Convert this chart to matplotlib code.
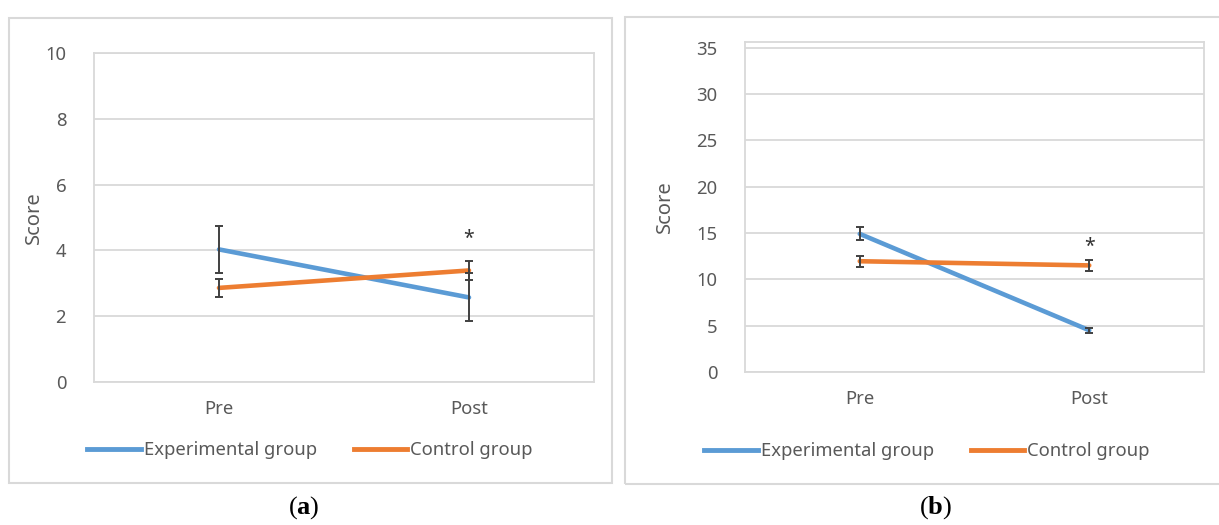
import matplotlib
matplotlib.use("Agg")
import matplotlib.pyplot as plt
from matplotlib.patches import Rectangle
from matplotlib.lines import Line2D

plt.rcParams["mathtext.fontset"] = "custom"
plt.rcParams["mathtext.rm"] = "Liberation Serif"
plt.rcParams["mathtext.bf"] = "Liberation Serif:bold"

# ---- data ----
categories = ["Pre", "Post"]
series_names = ["Experimental group", "Control group"]

a_exp = [4.03, 2.57]
a_exp_err = [0.71, 0.73]
a_ctrl = [2.86, 3.39]
a_ctrl_err = [0.28, 0.29]
a_star = 4.35
a_yticks = [0, 2, 4, 6, 8, 10]

b_exp = [14.9, 4.5]
b_exp_err = [0.7, 0.25]
b_ctrl = [11.95, 11.5]
b_ctrl_err = [0.58, 0.58]
b_star = 13.5
b_yticks = [0, 5, 10, 15, 20, 25, 30, 35]

panel_labels = ["a", "b"]

BLUE = "#5B9BD5"
ORANGE = "#ED7D31"
GRID = "#D9D9D9"
TXT = "#595959"
ERR = "#404040"
FONT = ["Noto Sans", "DejaVu Sans"]
FS = 13.3

W, H = 1219, 525
fig = plt.figure(figsize=(W / 100, H / 100), dpi=100)


def px_rect(x0, y0, x1, y1):
    return [x0 / W, 1 - y1 / H, (x1 - x0) / W, (y1 - y0) / H]


# outer chart boxes
for (x0, y0, x1, y1) in [(9, 18, 612, 483), (625, 17, 1225, 484)]:
    fig.patches.append(Rectangle((x0 / W, 1 - y1 / H), (x1 - x0) / W, (y1 - y0) / H,
                                 transform=fig.transFigure, fill=False,
                                 edgecolor=GRID, linewidth=1.5))


def draw_panel(rect, exp, exp_err, ctrl, ctrl_err, star, yticks, ytop,
               ylab_x, leg_center, leg_y):
    ax = fig.add_axes(rect)
    x = list(range(len(categories)))
    ax.set_xlim(-0.5, len(categories) - 0.5)
    ax.set_ylim(0, ytop)
    ax.set_yticks(yticks)
    ax.set_yticklabels([str(t) for t in yticks], fontsize=FS, color=TXT, family=FONT)
    ax.set_xticks(x)
    ax.set_xticklabels(categories, fontsize=FS, color=TXT, family=FONT)
    ax.tick_params(length=0, axis="y", pad=20)
    ax.tick_params(length=0, axis="x", pad=13)
    for t in yticks:
        ax.axhline(t, color=GRID, linewidth=1.3, zorder=0)
    for s in ax.spines.values():
        s.set_color(GRID)
        s.set_linewidth(1.3)
    ax.plot(x, exp, color=BLUE, linewidth=3.3, solid_capstyle="round", zorder=3)
    ax.plot(x, ctrl, color=ORANGE, linewidth=3.3, solid_capstyle="round", zorder=3)
    ax.errorbar(x, exp, yerr=exp_err, fmt="none", ecolor=ERR, elinewidth=1.4,
                capsize=3.2, capthick=1.4, zorder=4)
    ax.errorbar(x, ctrl, yerr=ctrl_err, fmt="none", ecolor=ERR, elinewidth=1.4,
                capsize=3.2, capthick=1.4, zorder=4)
    ax.text(x[-1], star, "*", ha="center", va="center", fontsize=14, color="#333333",
            family=FONT)
    ax.set_ylabel("Score", fontsize=14.5, color=TXT, family=FONT)
    ax.yaxis.set_label_coords((ylab_x - rect[0] * W) / (rect[2] * W), 0.5)
    handles = [Line2D([], [], color=BLUE, linewidth=3.5),
               Line2D([], [], color=ORANGE, linewidth=3.5)]
    leg = fig.legend(handles, series_names, loc="center",
                     bbox_to_anchor=(leg_center / W, 1 - leg_y / H),
                     ncol=2, frameon=False, handlelength=2.9,
                     handletextpad=0.15, columnspacing=2.0,
                     prop={"family": FONT, "size": FS})
    for t in leg.get_texts():
        t.set_color(TXT)
    return ax


draw_panel(px_rect(94, 53, 594, 382), a_exp, a_exp_err, a_ctrl, a_ctrl_err, a_star,
           a_yticks, 10, 44, 310, 450)
draw_panel(px_rect(745, 42, 1204, 372), b_exp, b_exp_err, b_ctrl, b_ctrl_err, b_star,
           b_yticks, 35.6, 675, 927, 451)

for lab, cx in zip(panel_labels, [304, 936]):
    fig.text(cx / W, 1 - 508 / H, "($\\mathbf{%s}$)" % lab, ha="center", va="center",
             fontsize=19, family="Liberation Serif", color="black")

fig.savefig("out.png", dpi=100, facecolor="white")
